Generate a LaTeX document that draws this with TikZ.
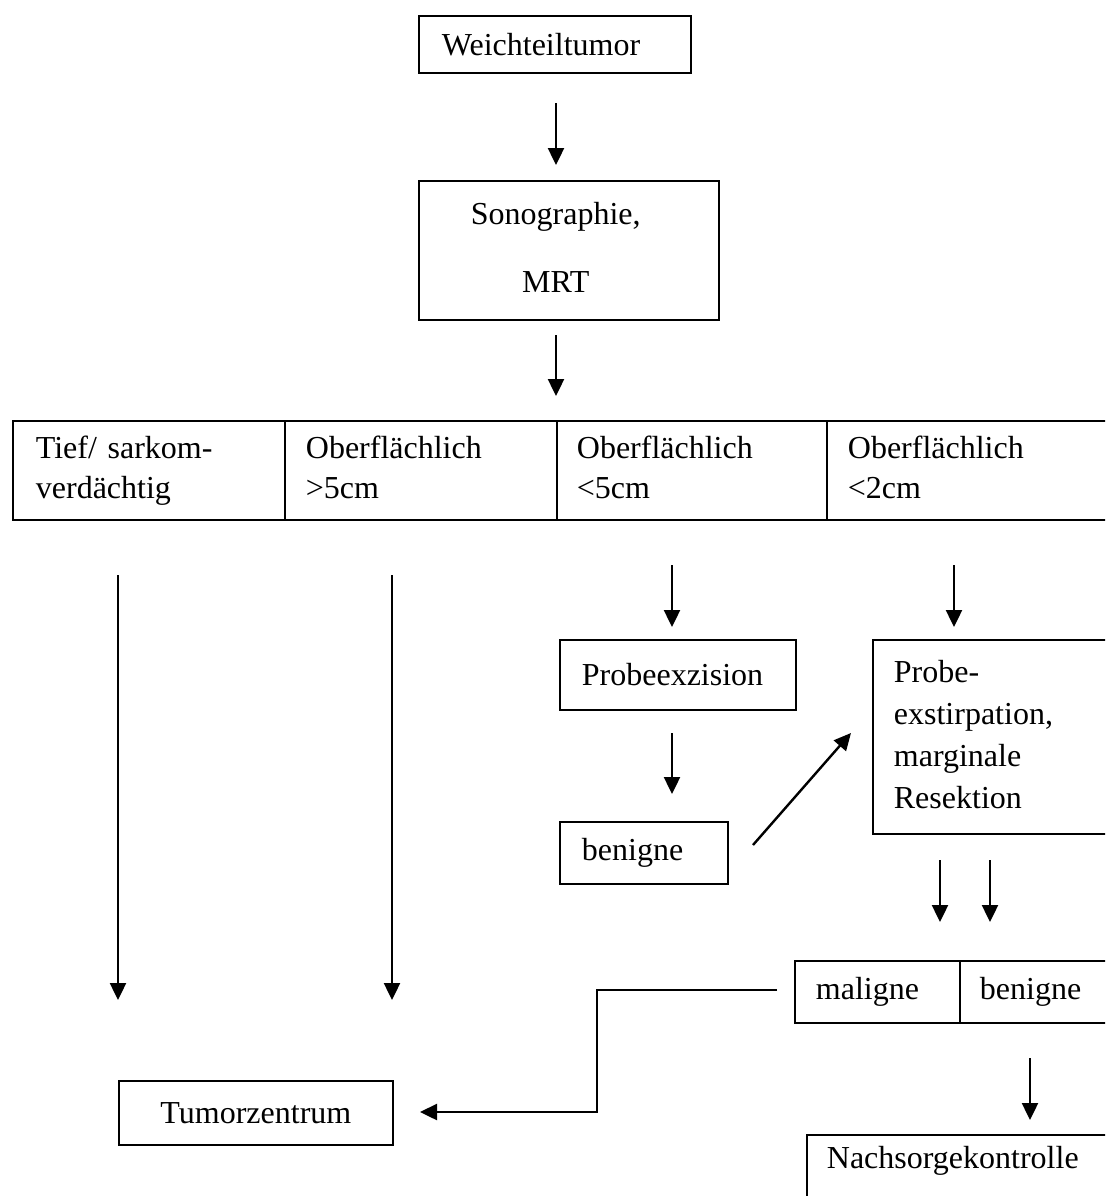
\documentclass[tikz,border=0pt]{standalone}
\usepackage{fontspec}
\setmainfont{Liberation Serif}
\usetikzlibrary{arrows.meta}
\begin{document}
\begin{tikzpicture}[x=0.5pt,y=-0.5pt,
  box/.style={draw, line width=0.9pt, anchor=north west, align=left, inner ysep=0pt,
    font=\fontsize{16}{21}\selectfont},
  cell/.style={box, font=\fontsize{16}{20}\selectfont, minimum height=49.5pt},
  arr/.style={line width=1.2pt, -{Triangle[width=8pt,length=8.5pt]}},
  conn/.style={line width=1.2pt}]
\useasboundingbox (0,0) rectangle (1105,1196);
\clip (0,0) rectangle (1105,1196);

% top boxes
\node[box, minimum width=136pt, minimum height=28.5pt, text width=113pt, inner xsep=11.5pt]
  (weich) at (418,15) {Weichteiltumor};
\node[box, minimum width=150pt, minimum height=69.5pt, text width=98pt, inner xsep=26pt]
  (sono) at (418,180) {\begin{tabular}{@{}c@{}}Sonographie,\\[13pt]MRT\end{tabular}};

% row of four cells
\node[cell, minimum width=136pt, text width=113pt, inner xsep=11.5pt]
  (c1) at (12,420) {\strut Tief/ sarkom-\\verdächtig\strut};
\node[cell, minimum width=136pt, text width=115pt, inner xsep=10.5pt]
  (c2) at (284,420) {\strut Oberflächlich\\>5cm\strut};
\node[cell, minimum width=135pt, text width=115pt, inner xsep=10pt]
  (c3) at (556,420) {\strut Oberflächlich\\<5cm\strut};
\node[cell, minimum width=150pt, text width=129pt, inner xsep=10.5pt]
  (c4) at (826,420) {\strut Oberflächlich\\<2cm\strut};

% middle boxes
\node[box, minimum width=118pt, minimum height=35pt, text width=96pt, inner xsep=11pt]
  (pe) at (559,639) {Probeexzision};
\node[box, minimum width=84pt, minimum height=31pt, text width=62pt, inner xsep=11pt]
  (ben1) at (559,821) {benigne};
\node[box, minimum width=130pt, minimum height=97pt, text width=109pt, inner xsep=10.5pt]
  (pex) at (872,639) {\strut Probe-\\exstirpation,\\marginale\\Resektion\strut};

% maligne | benigne
\node[box, minimum width=82.5pt, minimum height=31pt, text width=61.5pt, inner xsep=10.5pt]
  (mal) at (794,960) {maligne};
\node[box, minimum width=90pt, minimum height=31pt, text width=70pt, inner xsep=10pt]
  (ben2) at (959,960) {benigne};

% bottom boxes
\node[box, minimum width=137pt, minimum height=32pt, text width=115pt, inner xsep=11pt, align=center]
  (tz) at (118,1080) {Tumorzentrum};
\node[box, minimum width=160pt, minimum height=40pt, text width=140pt, inner xsep=10pt,
  text depth=18pt]
  (nk) at (806,1134) {Nachsorgekontrolle};

% arrow end points
\coordinate (a1s) at (556,103);  \coordinate (a1e) at (556,165);
\coordinate (a2s) at (556,335);  \coordinate (a2e) at (556,396);
\coordinate (a3s) at (118,575);  \coordinate (a3e) at (118,1000);
\coordinate (a4s) at (392,575);  \coordinate (a4e) at (392,1000);
\coordinate (a5s) at (672,565);  \coordinate (a5e) at (672,627);
\coordinate (a6s) at (954,565);  \coordinate (a6e) at (954,627);
\coordinate (a7s) at (672,733);  \coordinate (a7e) at (672,794);
\coordinate (a8s) at (753,845);  \coordinate (a8e) at (851,733);
\coordinate (a9s) at (940,860);  \coordinate (a9e) at (940,922);
\coordinate (a10s) at (990,860); \coordinate (a10e) at (990,922);
\coordinate (a11s) at (1030,1058); \coordinate (a11e) at (1030,1120);
\coordinate (m1) at (777,990);   \coordinate (m2) at (597,990);
\coordinate (m3) at (597,1112);  \coordinate (m4) at (420,1112);

\draw[arr] (a1s) -- (a1e);
\draw[arr] (a2s) -- (a2e);
\draw[arr] (a3s) -- (a3e);
\draw[arr] (a4s) -- (a4e);
\draw[arr] (a5s) -- (a5e);
\draw[arr] (a6s) -- (a6e);
\draw[arr] (a7s) -- (a7e);
\draw[arr] (a8s) -- (a8e);
\draw[arr] (a9s) -- (a9e);
\draw[arr] (a10s) -- (a10e);
\draw[arr] (a11s) -- (a11e);
\draw[arr] (m1) -- (m2) -- (m3) -- (m4);
\end{tikzpicture}
\end{document}
